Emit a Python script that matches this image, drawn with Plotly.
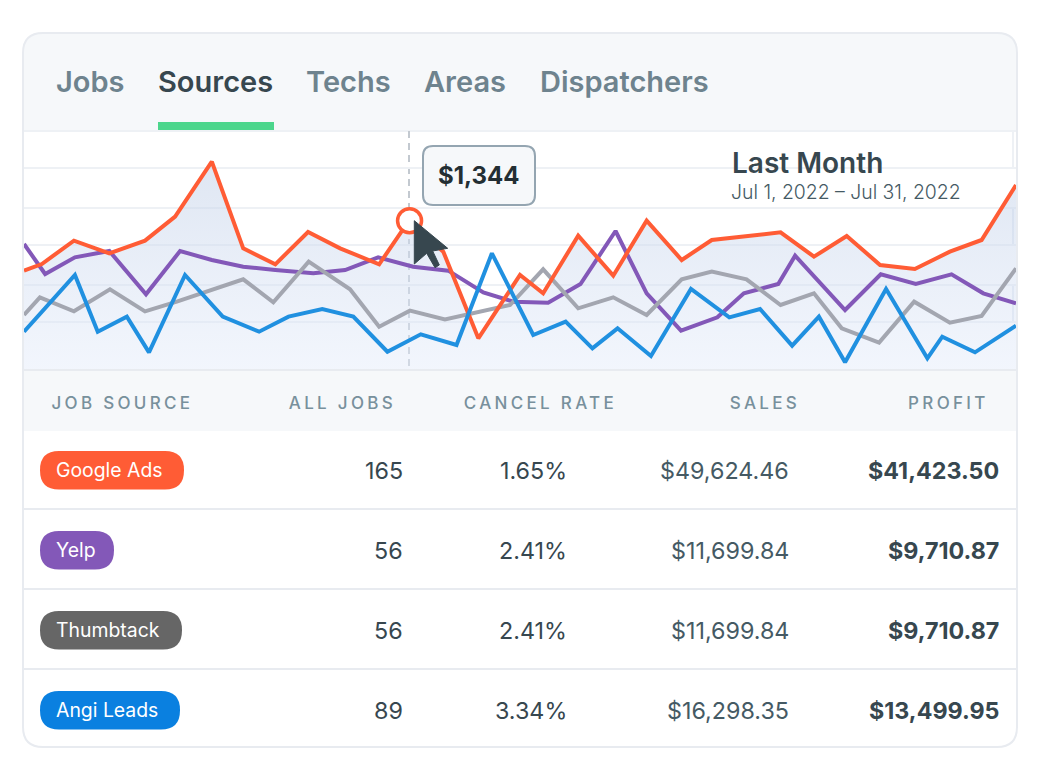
# Job source dashboard card: tabs, line chart for last month, and table below.
import plotly.graph_objects as go

# -------------------
# Chart data (day of month, profit per day)
# -------------------
google_days = [1.00, 1.54, 2.51, 3.58, 4.66, 5.57, 6.68, 7.63, 8.60, 9.59, 10.56, 11.74, 12.64, 13.68, 14.74,
               16.00, 16.70, 17.76, 18.82, 19.83, 20.89, 21.80, 23.88, 24.89, 25.88, 26.89, 27.94, 29.00, 29.96, 31.00]
google_vals = [894, 954, 1164, 1050, 1164, 1380, 1875, 1095, 951, 1242, 1095, 951, 1344, 1065, 285,
               855, 690, 1209, 849, 1344, 990, 1170, 1239, 1020, 1206, 945, 909, 1065, 1170, 1665]

yelp_days = [1.00, 1.64, 2.54, 3.58, 4.69, 5.72, 6.68, 7.63, 8.60, 9.75, 10.71, 11.71, 12.77, 13.83, 14.89, 15.80,
             16.85, 17.83, 18.89, 19.83, 20.87, 21.97, 22.77, 23.81, 24.32, 25.83, 26.91, 27.97, 29.05, 30.01, 31.00]
yelp_vals = [1134, 864, 1014, 1071, 681, 1071, 990, 930, 900, 870, 900, 1014, 930, 894, 699, 615,
             606, 774, 1251, 690, 354, 474, 690, 774, 1029, 540, 861, 774, 861, 690, 600]

thumbtack_days = [1.00, 1.48, 2.51, 3.60, 4.66, 5.62, 7.63, 8.54, 9.61, 10.86, 11.74, 12.67, 13.73, 15.70, 16.70,
                  17.76, 18.82, 19.83, 20.89, 21.80, 22.85, 23.88, 24.89, 25.73, 26.86, 27.92, 29.00, 29.96, 31.00]
thumbtack_vals = [495, 654, 528, 726, 528, 615, 816, 609, 975, 726, 390, 534, 456, 585, 906,
                  555, 654, 495, 816, 885, 816, 585, 690, 375, 246, 615, 426, 486, 915]

angi_days = [1.00, 2.54, 3.23, 4.11, 4.78, 5.87, 7.01, 8.11, 9.00, 10.02, 10.96, 11.99, 13.00, 14.08, 15.15, 16.00,
             16.40, 17.38, 18.19, 18.95, 19.96, 21.17, 22.33, 23.26, 24.23, 25.04, 25.83, 27.07, 28.32, 28.77, 29.76, 31.00]
angi_vals = [345, 855, 345, 480, 159, 855, 480, 345, 480, 549, 480, 165, 321, 225, 1050, 540,
             315, 435, 195, 375, 126, 729, 474, 549, 219, 480, 69, 729, 105, 300, 159, 399]

grid_vals = [0, 432, 765, 1125, 1458, 1818, 2151]
hover_day = 12.66
hover_val = 1344

# -------------------
# Table data
# -------------------
tabs = ["Jobs", "Sources", "Techs", "Areas", "Dispatchers"]
headers = ["JOB SOURCE", "ALL JOBS", "CANCEL RATE", "SALES", "PROFIT"]
sources = ["Google Ads", "Yelp", "Thumbtack", "Angi Leads"]
all_jobs = ["165", "56", "56", "89"]
cancel_rate = ["1.65%", "2.41%", "2.41%", "3.34%"]
sales = ["$49,624.46", "$11,699.84", "$11,699.84", "$16,298.35"]
profit = ["$41,423.50", "$9,710.87", "$9,710.87", "$13,499.95"]

FONT = "Inter"
ORANGE = "#ff5c35"
DARK = "#37474f"
MID = "#455a64"
MUTED = "#6e838e"


# figure is 1040x780, these turn page pixels into paper fractions
def px(x):
    return x / 1040


def py(y):
    return 1 - y / 780


def round_path(x0, y0, x1, y1, r, top_only=False):
    rb = 0 if top_only else r
    return (
        f"M {px(x0 + r)} {py(y0)} L {px(x1 - r)} {py(y0)} "
        f"Q {px(x1)} {py(y0)} {px(x1)} {py(y0 + r)} "
        f"L {px(x1)} {py(y1 - rb)} Q {px(x1)} {py(y1)} {px(x1 - rb)} {py(y1)} "
        f"L {px(x0 + rb)} {py(y1)} Q {px(x0)} {py(y1)} {px(x0)} {py(y1 - rb)} "
        f"L {px(x0)} {py(y0 + r)} Q {px(x0)} {py(y0)} {px(x0 + r)} {py(y0)} Z"
    )


def box(path, fill="rgba(0,0,0,0)", line=None, width=0, layer="below"):
    return dict(type="path", xref="paper", yref="paper", path=path, fillcolor=fill,
                line=dict(color=line or "rgba(0,0,0,0)", width=width), layer=layer)


def rule(x0, y0, x1, y1, color, width=2, dash="solid", layer="below"):
    return dict(type="line", xref="paper", yref="paper", x0=px(x0), y0=py(y0), x1=px(x1), y1=py(y1),
                line=dict(color=color, width=width, dash=dash), layer=layer)


def label(x, y, text, size, color, anchor="left", weight=400):
    return dict(xref="paper", yref="paper", x=px(x), y=py(y), text=text, showarrow=False,
                xanchor=anchor, yanchor="middle", borderpad=0, borderwidth=0,
                font=dict(family=FONT, size=size, color=color, weight=weight))


# -------------------
# Lines
# -------------------
fig = go.Figure()

# area under Google Ads goes first so the other lines stay crisp on top of it
fig.add_trace(go.Scatter(
    x=google_days, y=google_vals, mode="none", name="Google Ads area",
    fill="tozeroy",
    fillgradient=dict(type="vertical", colorscale=[[0, "rgba(226,234,250,0.45)"], [1, "rgba(196,210,232,0.55)"]]),
))
fig.add_trace(go.Scatter(x=yelp_days, y=yelp_vals, mode="lines", name="Yelp",
                         line=dict(color="#8358b8", width=4)))
fig.add_trace(go.Scatter(x=thumbtack_days, y=thumbtack_vals, mode="lines", name="Thumbtack",
                         line=dict(color="#a3a6b0", width=4)))
fig.add_trace(go.Scatter(x=google_days, y=google_vals, mode="lines", name="Google Ads",
                         line=dict(color=ORANGE, width=4)))
fig.add_trace(go.Scatter(x=angi_days, y=angi_vals, mode="lines", name="Angi Leads",
                         line=dict(color="#2090e0", width=4)))
fig.add_trace(go.Scatter(x=[hover_day], y=[hover_val], mode="markers", name="Hover",
                         marker=dict(size=24, color="white", line=dict(color=ORANGE, width=3.5))))

# -------------------
# Card pieces
# -------------------
shapes = [
    box(round_path(23, 33, 1017, 747, 20), fill="white"),
    box(round_path(23, 33, 1017, 131, 20, top_only=True), fill="#f6f8fa"),
    box(round_path(23, 370, 1017, 431, 0), fill="#f6f8fa"),
    rule(24, 131, 1016, 131, "#eef1f5"),
    rule(24, 370, 1016, 370, "#e8ebf0", layer="above"),
    rule(24, 509, 1016, 509, "#e8ebf0"),
    rule(24, 589, 1016, 589, "#e8ebf0"),
    rule(24, 669, 1016, 669, "#e8ebf0"),
    rule(1013, 131, 1013, 168, "#eef1f5"),
    rule(1013, 208, 1013, 245, "#e6ebf3"),
    rule(1013, 285, 1013, 322, "#e6ebf3"),
    box(round_path(158, 122, 274, 130, 0), fill="#4cd68c", layer="above"),
    rule(409, 131, 409, 370, "#c3c9d0", width=2, dash="7px,5px"),
    box(round_path(23, 33, 1017, 747, 20), line="#e8ebf0", width=2, layer="above"),
    # tooltip
    box(round_path(423, 146, 535, 205, 10), fill="#f6f8fa", line="#94a5b1", width=2, layer="above"),
    # mouse cursor
    box(f"M {px(414.3)} {py(220.7)} L {px(447.7)} {py(248.3)} L {px(432.7)} {py(251)} L {px(439.3)} {py(265)} "
        f"L {px(435)} {py(267.7)} L {px(426.7)} {py(253.3)} L {px(414.3)} {py(264)} Z",
        fill=DARK, line=DARK, width=1, layer="above"),
]

annotations = [
    label(732, 163, "Last Month", 28, DARK, weight=600),
    label(731, 192, "Jul 1, 2022 – Jul 31, 2022", 19.4, MID, weight=300),
    label(437.5, 176, f"${hover_val:,}", 24, "#232e33", weight=700),
]

tab_x = [56, 158, 306, 424, 540]
for i, tab in enumerate(tabs):
    active = tab == "Sources"
    annotations.append(label(tab_x[i], 82, tab, 29, DARK if active else MUTED, weight=600))

header_x = [68, 301.5, 482, 738, 918]
for i, head in enumerate(headers):
    annotations.append(label(header_x[i], 403, head, 17, "#78909c", weight=500))

# table rows
pill_colors = [ORANGE, "#8358b8", "#666666", "#0a80e0"]
pill_right = [184, 114, 182, 180]
for i, src in enumerate(sources):
    mid = 471 + 80 * i
    shapes.append(box(round_path(40, mid - 20, pill_right[i], mid + 18.5, 19), fill=pill_colors[i]))
    annotations.append(label(56, mid - 1, src, 19.4, "white"))
    annotations.append(label(403, mid - 0.8, all_jobs[i], 23.3, DARK, anchor="right"))
    annotations.append(label(567, mid - 0.8, cancel_rate[i], 23.3, DARK, anchor="right"))
    annotations.append(label(789, mid - 0.8, sales[i], 23.3, MID, anchor="right"))
    annotations.append(label(999, mid - 0.8, profit[i], 23.3, DARK, anchor="right", weight=700))

fig.update_layout(
    width=1040,
    height=780,
    margin=dict(l=0, r=0, t=0, b=0),
    paper_bgcolor="white",
    plot_bgcolor="rgba(0,0,0,0)",
    showlegend=False,
    hovermode=False,
    shapes=shapes,
    annotations=annotations,
    xaxis=dict(domain=[px(24), px(1016)], range=[1, 31], visible=False, fixedrange=True),
    yaxis=dict(domain=[py(370), py(131)], range=[0, 2151], tickmode="array", tickvals=grid_vals,
               showticklabels=False, ticks="", showline=False, zeroline=False,
               showgrid=True, gridcolor="#eef1f5", gridwidth=2, fixedrange=True),
)

# drop the page margin and space out the table header letters
fig.write_html(
    "out.html",
    config={"displayModeBar": False},
    post_script=(
        "document.body.style.margin='0';"
        "document.querySelectorAll('.annotation-text').forEach(function(t){"
        "if(/^[A-Z ]+$/.test(t.textContent)){t.style.letterSpacing='3.3px';}});"
    ),
)
